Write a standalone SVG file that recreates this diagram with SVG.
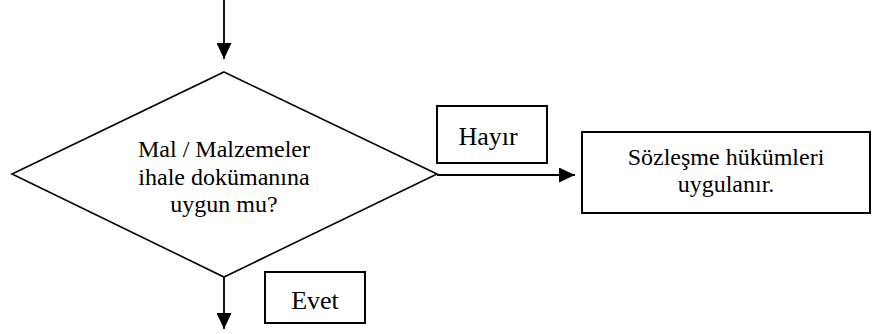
<svg xmlns="http://www.w3.org/2000/svg" width="877" height="334" viewBox="0 0 877 334">
<style>
.shape{fill:#fff;stroke:#000;stroke-width:1.6}
.box{fill:#fff;stroke:#000;stroke-width:2}
.line{fill:none;stroke:#000;stroke-width:1.8}
.t{font-family:'Liberation Serif','DejaVu Serif','Times New Roman',serif;font-size:24px;fill:#000;text-anchor:middle}
.lbl{font-size:26px}
</style>
<defs>
<marker id="arr" viewBox="0 0 16 15" refX="16" refY="7.5" markerWidth="16" markerHeight="15" markerUnits="userSpaceOnUse" orient="auto">
<path d="M0,0 L16,7.5 L0,15 Z" fill="#000"/>
</marker>
</defs>
<g id="connectors">
<line class="line" x1="224" y1="0" x2="224" y2="59" marker-end="url(#arr)"/>
<line class="line" x1="437" y1="175" x2="575" y2="175" marker-end="url(#arr)"/>
<line class="line" x1="224" y1="277" x2="224" y2="329" marker-end="url(#arr)"/>
</g>
<g id="decision">
<polygon class="shape" points="224,72 437,174 224,277 12,174"/>
<text class="t" x="224" y="157">Mal / Malzemeler</text>
<text class="t" x="224" y="185">ihale dokümanına</text>
<text class="t" x="224" y="212">uygun mu?</text>
</g>
<g id="hayir">
<rect class="box" x="437" y="106" width="110" height="57"/>
<text class="t lbl" x="488" y="145">Hayır</text>
</g>
<g id="sozlesme">
<rect class="box" x="582" y="132" width="288" height="81"/>
<text class="t" x="726" y="165">Sözleşme hükümleri</text>
<text class="t" x="726" y="192">uygulanır.</text>
</g>
<g id="evet">
<rect class="box" x="265" y="272" width="100" height="51"/>
<text class="t lbl" x="315" y="308.5">Evet</text>
</g>
</svg>
